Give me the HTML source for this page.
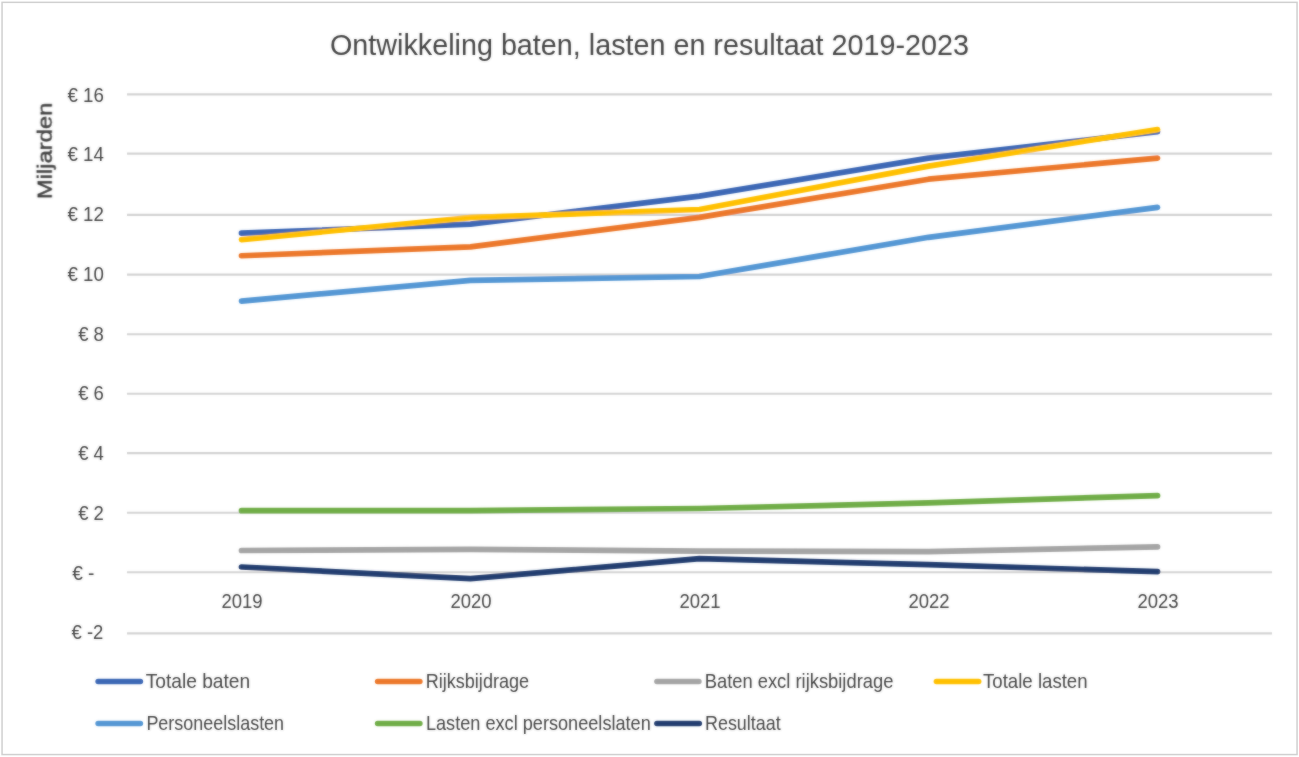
<!DOCTYPE html>
<html lang="nl"><head><meta charset="utf-8"><title>Ontwikkeling baten, lasten en resultaat 2019-2023</title>
<style>html,body{margin:0;padding:0;background:#fff}body{width:1299px;height:757px;overflow:hidden}svg{display:block}text{font-family:"Liberation Sans", sans-serif;fill:#444444}</style>
</head><body>
<svg width="1299" height="757" viewBox="0 0 1299 757">
<defs><filter id="soft" x="0" y="0" width="1299" height="757" filterUnits="userSpaceOnUse"><feGaussianBlur in="SourceGraphic" stdDeviation="0.9" result="b"/><feComposite in="b" in2="SourceGraphic" operator="arithmetic" k1="0" k2="0.45" k3="0.55" k4="0"/></filter></defs>
<rect x="0" y="0" width="1299" height="757" fill="#fff"/>
<rect x="2.05" y="2.35" width="1295" height="752.2" fill="none" stroke="#d0d0d0" stroke-width="1.5"/>
<g filter="url(#soft)">
<line x1="127.00" y1="94.35" x2="1272.00" y2="94.35" stroke="#d3d3d3" stroke-width="2.2"/>
<line x1="127.00" y1="153.56" x2="1272.00" y2="153.56" stroke="#d3d3d3" stroke-width="2.2"/>
<line x1="127.00" y1="214.86" x2="1272.00" y2="214.86" stroke="#d3d3d3" stroke-width="2.2"/>
<line x1="127.00" y1="274.56" x2="1272.00" y2="274.56" stroke="#d3d3d3" stroke-width="2.2"/>
<line x1="127.00" y1="334.27" x2="1272.00" y2="334.27" stroke="#d3d3d3" stroke-width="2.2"/>
<line x1="127.00" y1="393.75" x2="1272.00" y2="393.75" stroke="#d3d3d3" stroke-width="2.2"/>
<line x1="127.00" y1="453.15" x2="1272.00" y2="453.15" stroke="#d3d3d3" stroke-width="2.2"/>
<line x1="127.00" y1="512.75" x2="1272.00" y2="512.75" stroke="#d3d3d3" stroke-width="2.2"/>
<line x1="127.00" y1="572.27" x2="1272.00" y2="572.27" stroke="#d3d3d3" stroke-width="2.2"/>
<line x1="127.00" y1="633.39" x2="1272.00" y2="633.39" stroke="#d3d3d3" stroke-width="2.2"/>
<text x="330.00" y="54.80" font-size="30.00" text-anchor="start" textLength="639.00" lengthAdjust="spacingAndGlyphs">Ontwikkeling baten, lasten en resultaat 2019-2023</text>
<text x="67.50" y="101.55" font-size="20.00" text-anchor="start" textLength="36.40" lengthAdjust="spacingAndGlyphs">€ 16</text>
<text x="67.50" y="161.30" font-size="20.00" text-anchor="start" textLength="36.40" lengthAdjust="spacingAndGlyphs">€ 14</text>
<text x="67.50" y="221.05" font-size="20.00" text-anchor="start" textLength="36.40" lengthAdjust="spacingAndGlyphs">€ 12</text>
<text x="67.50" y="280.80" font-size="20.00" text-anchor="start" textLength="36.40" lengthAdjust="spacingAndGlyphs">€ 10</text>
<text x="78.20" y="340.55" font-size="20.00" text-anchor="start" textLength="25.70" lengthAdjust="spacingAndGlyphs">€ 8</text>
<text x="78.20" y="400.30" font-size="20.00" text-anchor="start" textLength="25.70" lengthAdjust="spacingAndGlyphs">€ 6</text>
<text x="78.20" y="460.05" font-size="20.00" text-anchor="start" textLength="25.70" lengthAdjust="spacingAndGlyphs">€ 4</text>
<text x="78.20" y="519.80" font-size="20.00" text-anchor="start" textLength="25.70" lengthAdjust="spacingAndGlyphs">€ 2</text>
<text x="72.20" y="579.55" font-size="20.00" text-anchor="start" textLength="22.30" lengthAdjust="spacingAndGlyphs">€ -</text>
<text x="71.50" y="639.30" font-size="20.00" text-anchor="start" textLength="31.80" lengthAdjust="spacingAndGlyphs">€ -2</text>
<text x="221.40" y="608.10" font-size="20.00" text-anchor="start" textLength="41.20" lengthAdjust="spacingAndGlyphs">2019</text>
<text x="450.40" y="608.10" font-size="20.00" text-anchor="start" textLength="41.20" lengthAdjust="spacingAndGlyphs">2020</text>
<text x="679.40" y="608.10" font-size="20.00" text-anchor="start" textLength="41.20" lengthAdjust="spacingAndGlyphs">2021</text>
<text x="908.40" y="608.10" font-size="20.00" text-anchor="start" textLength="41.20" lengthAdjust="spacingAndGlyphs">2022</text>
<text x="1137.40" y="608.10" font-size="20.00" text-anchor="start" textLength="41.20" lengthAdjust="spacingAndGlyphs">2023</text>
<text transform="translate(51.7,199.1) rotate(-90)" x="0" y="0" font-size="19.6" fill="#333333" stroke="#333333" stroke-width="0.4" textLength="96.4" lengthAdjust="spacingAndGlyphs">Miljarden</text>
<polyline points="241.50,233.20 470.50,224.20 699.50,196.10 928.50,158.10 1157.50,131.70" fill="none" stroke="#3C67B5" stroke-width="5.70" stroke-linecap="round" stroke-linejoin="round"/>
<polyline points="241.50,255.75 470.50,246.80 699.50,217.40 928.50,179.20 1157.50,158.05" fill="none" stroke="#EC782C" stroke-width="5.70" stroke-linecap="round" stroke-linejoin="round"/>
<polyline points="241.50,550.50 470.50,549.40 699.50,551.10 928.50,551.70 1157.50,546.90" fill="none" stroke="#A5A5A5" stroke-width="5.70" stroke-linecap="round" stroke-linejoin="round"/>
<polyline points="241.50,239.60 470.50,217.70 699.50,209.50 928.50,166.10 1157.50,129.60" fill="none" stroke="#FFC000" stroke-width="5.70" stroke-linecap="round" stroke-linejoin="round"/>
<polyline points="241.50,301.10 470.50,280.40 699.50,276.50 928.50,237.30 1157.50,207.30" fill="none" stroke="#5497D4" stroke-width="5.70" stroke-linecap="round" stroke-linejoin="round"/>
<polyline points="241.50,510.65 470.50,510.65 699.50,508.50 928.50,502.90 1157.50,495.60" fill="none" stroke="#70AD47" stroke-width="5.70" stroke-linecap="round" stroke-linejoin="round"/>
<polyline points="241.50,567.00 470.50,578.60 699.50,558.70 928.50,564.70 1157.50,571.70" fill="none" stroke="#223E70" stroke-width="5.70" stroke-linecap="round" stroke-linejoin="round"/>
<line x1="98.10" y1="681.40" x2="140.40" y2="681.40" stroke="#3C67B5" stroke-width="5.50" stroke-linecap="round"/>
<text x="145.70" y="687.50" font-size="20.20" text-anchor="start" textLength="104.50" lengthAdjust="spacingAndGlyphs">Totale baten</text>
<line x1="377.60" y1="681.40" x2="419.90" y2="681.40" stroke="#EC782C" stroke-width="5.50" stroke-linecap="round"/>
<text x="425.70" y="687.50" font-size="20.20" text-anchor="start" textLength="103.40" lengthAdjust="spacingAndGlyphs">Rijksbijdrage</text>
<line x1="656.90" y1="681.40" x2="698.90" y2="681.40" stroke="#A5A5A5" stroke-width="5.50" stroke-linecap="round"/>
<text x="704.70" y="687.50" font-size="20.20" text-anchor="start" textLength="188.70" lengthAdjust="spacingAndGlyphs">Baten excl rijksbijdrage</text>
<line x1="936.40" y1="681.40" x2="978.70" y2="681.40" stroke="#FFC000" stroke-width="5.50" stroke-linecap="round"/>
<text x="983.00" y="687.50" font-size="20.20" text-anchor="start" textLength="104.60" lengthAdjust="spacingAndGlyphs">Totale lasten</text>
<line x1="98.10" y1="723.40" x2="140.40" y2="723.40" stroke="#5497D4" stroke-width="5.50" stroke-linecap="round"/>
<text x="146.40" y="729.50" font-size="20.20" text-anchor="start" textLength="137.70" lengthAdjust="spacingAndGlyphs">Personeelslasten</text>
<line x1="377.60" y1="723.40" x2="419.90" y2="723.40" stroke="#70AD47" stroke-width="5.50" stroke-linecap="round"/>
<text x="425.90" y="729.50" font-size="20.20" text-anchor="start" textLength="224.90" lengthAdjust="spacingAndGlyphs">Lasten excl personeelslaten</text>
<line x1="656.90" y1="723.40" x2="699.30" y2="723.40" stroke="#223E70" stroke-width="5.50" stroke-linecap="round"/>
<text x="705.00" y="729.50" font-size="20.20" text-anchor="start" textLength="75.70" lengthAdjust="spacingAndGlyphs">Resultaat</text>
</g>
</svg>
</body></html>
